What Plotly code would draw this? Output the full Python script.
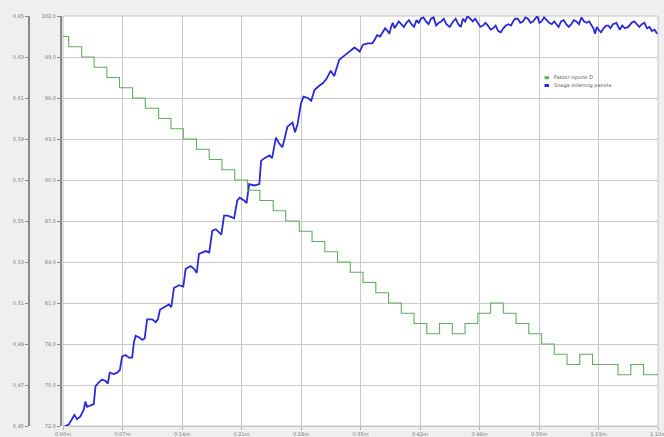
import plotly.graph_objects as go

# Duty factor D: step changes (start time in minutes, value)
duty_t = [0.0, 0.67, 2.2, 3.66, 5.16, 6.65, 8.18, 9.68, 11.25, 12.7, 14.15, 15.7,
          17.2, 18.7, 20.2, 21.7, 23.16, 24.73, 26.2, 27.8, 29.3, 30.8, 32.3, 33.8,
          35.3, 36.8, 38.3, 39.8, 41.3, 42.8, 44.3, 45.8, 47.3, 48.8, 50.3, 51.8,
          53.3, 54.8, 56.3, 57.8, 59.3, 60.8, 62.3, 63.8, 65.3, 66.8, 68.3, 69.6, 70.0]
duty_v = [0.640, 0.635, 0.630, 0.625, 0.620, 0.615, 0.610, 0.605, 0.600, 0.595, 0.590, 0.585,
          0.580, 0.575, 0.570, 0.565, 0.560, 0.555, 0.550, 0.545, 0.540, 0.535, 0.530, 0.525,
          0.520, 0.515, 0.510, 0.505, 0.500, 0.495, 0.500, 0.495, 0.500, 0.505, 0.510, 0.505,
          0.500, 0.495, 0.490, 0.485, 0.480, 0.485, 0.480, 0.480, 0.475, 0.480, 0.475, 0.475, 0.475]

# Solar panel power (time in minutes, value)
power_t = [0.2, 0.28, 0.67, 1.06, 1.34, 1.65, 2.05, 2.44, 2.64, 2.83, 3.23, 3.62, 3.82, 4.21,
           4.6, 5.0, 5.27, 5.5, 5.98, 6.37, 6.69, 6.96, 7.36, 7.75, 8.14, 8.34, 8.54, 8.93,
           9.32, 9.6, 9.9, 10.5, 10.9, 11.17, 11.4, 11.87, 12.46, 12.74, 13.05, 13.64, 14.15,
           14.43, 15.02, 15.41, 15.73, 16.0, 16.4, 16.8, 17.2, 17.57, 17.97, 18.36, 18.63,
           18.95, 19.34, 19.74, 20.13, 20.5, 20.8, 21.3, 21.6, 21.9, 22.5, 23.1, 23.3, 23.7,
           24.3, 24.6, 25.05, 25.4, 25.8, 26.0, 26.4, 27.0, 27.3, 27.6, 28.0, 28.3, 28.8,
           29.2, 29.6, 30.15, 30.6, 31.0, 31.5, 31.9, 32.5, 33.1, 33.7, 34.3, 34.9, 35.3,
           35.85, 36.4, 36.7, 36.95, 37.3, 37.6, 37.9, 38.2, 38.4, 38.6, 38.8, 39.0, 39.2,
           39.5, 39.8, 40.1, 40.4, 40.7, 41.0, 41.3, 41.6, 41.85, 42.1, 42.4, 42.7, 43.0,
           43.3, 43.6, 43.9, 44.2, 44.5, 44.8, 45.1, 45.5, 45.9, 46.2, 46.5, 46.8, 47.05,
           47.3, 47.6, 47.9, 48.2, 48.5, 48.8, 49.1, 49.4, 49.7, 50.0, 50.3, 50.6, 50.9,
           51.2, 51.5, 51.8, 52.1, 52.4, 52.7, 52.95, 53.2, 53.5, 53.8, 54.1, 54.4, 54.7,
           55.0, 55.3, 55.55, 55.8, 56.05, 56.3, 56.6, 56.9, 57.2, 57.5, 57.8, 58.05, 58.3,
           58.6, 58.9, 59.2, 59.5, 59.8, 60.1, 60.4, 60.7, 61.0, 61.3, 61.6, 61.9, 62.2,
           62.4, 62.6, 62.8, 63.0, 63.3, 63.6, 63.9, 64.15, 64.4, 64.7, 65.1, 65.5, 65.8,
           66.1, 66.5, 66.9, 67.2, 67.5, 67.8, 68.1, 68.4, 68.7, 69.0, 69.3, 69.6, 69.9]
power_v = [72.0, 72.0, 72.1, 72.5, 72.8, 72.5, 72.7, 73.2, 73.8, 73.4, 73.5, 73.6, 74.9, 75.2,
           75.4, 75.3, 75.1, 75.9, 75.8, 75.9, 76.1, 77.1, 77.2, 77.0, 77.0, 78.1, 78.6, 78.5,
           78.3, 78.4, 79.8, 79.8, 79.6, 79.8, 80.5, 80.7, 80.9, 80.7, 82.1, 82.3, 82.2,
           83.5, 83.7, 83.5, 83.2, 84.6, 84.7, 84.8, 84.7, 86.3, 86.4, 86.2, 86.0,
           87.4, 87.4, 87.3, 87.2, 88.5, 88.7, 88.5, 88.3, 89.7, 89.6, 89.7, 91.4, 91.6,
           91.8, 91.6, 93.1, 92.7, 92.4, 92.85, 93.9, 94.2, 93.5, 94.1, 95.6, 96.1, 96.0,
           95.8, 96.6, 96.9, 97.1, 97.4, 98.0, 97.6, 98.8, 99.1, 99.4, 99.7, 99.4, 99.9,
           100.0, 100.0, 100.3, 100.6, 100.5, 100.8, 101.1, 100.9, 100.7, 101.2, 101.5, 101.1, 101.3,
           101.6, 101.4, 101.2, 101.5, 101.7, 101.4, 101.2, 101.7, 101.5, 101.8, 101.9, 101.6, 101.4,
           101.8, 101.9, 101.3, 101.5, 101.6, 101.8, 101.4, 101.2, 101.6, 101.8, 101.4, 101.2, 101.8,
           101.6, 102.0, 101.8, 101.6, 101.8, 101.5, 101.2, 101.3, 101.5, 101.3, 101.0, 101.1, 101.3,
           100.9, 100.8, 101.1, 101.3, 101.4, 101.3, 101.6, 101.8, 101.8, 101.5, 101.6, 101.9, 101.8,
           101.5, 101.6, 101.8, 102.0, 101.5, 101.6, 101.9, 101.7, 101.5, 101.4, 101.6, 101.4, 101.2,
           101.6, 101.7, 101.4, 101.2, 101.4, 101.7, 101.6, 101.4, 101.9, 101.6, 101.5, 101.6, 101.3,
           101.1, 100.7, 101.2, 101.0, 100.8, 101.1, 101.3, 101.3, 101.1, 101.4, 101.5, 101.0, 101.3,
           101.1, 101.2, 101.5, 101.6, 101.4, 101.2, 101.4, 101.5, 101.1, 101.2, 100.9, 101.0, 100.7]

tick_minutes = [0, 7, 14, 21, 28, 35, 42, 49, 56, 63, 70]
tick_labels = ["0:00m", "0:07m", "0:14m", "0:21m", "0:28m", "0:35m", "0:42m",
               "0:49m", "0:56m", "1:03m", "1:10m"]

series_names = ["Faktor ispune D", "Snaga solarnog panela"]

GREEN = "#62ad62"
BLUE = "#2a2ad8"
GRID = "#c9c9c9"
AXIS = "#8c8c8c"
TXT = "#7a7a7a"
W, H = 664, 437

fig = go.Figure()
fig.add_trace(go.Scatter(x=duty_t, y=duty_v, mode="lines", name=series_names[0],
                         line=dict(color=GREEN, width=1.1, shape="hv"),
                         yaxis="y2", showlegend=False, hoverinfo="skip"))
fig.add_trace(go.Scatter(x=power_t, y=power_v, mode="lines", name=series_names[1],
                         line=dict(color=BLUE, width=1.8),
                         yaxis="y", showlegend=False, hoverinfo="skip"))

fig.update_layout(
    width=W, height=H,
    margin=dict(l=0, r=0, t=16, b=11, autoexpand=False),
    paper_bgcolor="#efefef",
    plot_bgcolor="#ffffff",
    separators=", ",
    font=dict(family="DejaVu Sans", size=5, color=TXT),
    showlegend=False,
    xaxis=dict(domain=[63 / W, 658 / W], range=[0, 70], tickvals=tick_minutes, ticktext=tick_labels,
               showgrid=True, gridcolor=GRID, gridwidth=1, zeroline=False,
               showline=True, linecolor="#c4c4c4", linewidth=1,
               ticks="outside", ticklen=3, tickcolor="#b0b0b0", ticklabeloverflow="allow",
               automargin=False, tickfont=dict(size=5, color=TXT)),
    yaxis=dict(range=[72, 102], dtick=3, tick0=72, tickformat=".1f",
               anchor="free", position=61 / W, side="left", automargin=False,
               showgrid=True, gridcolor=GRID, gridwidth=1, zeroline=False,
               showline=True, linecolor=AXIS, linewidth=2,
               ticks="outside", ticklen=3, tickcolor=AXIS,
               tickfont=dict(size=5, color=TXT)),
    yaxis2=dict(range=[0.45, 0.65], dtick=0.02, tick0=0.45, tickformat=".2f",
                anchor="free", position=29 / W, side="left", overlaying="y", automargin=False,
                showgrid=False, zeroline=False,
                showline=True, linecolor=AXIS, linewidth=2,
                ticks="outside", ticklen=3, tickcolor=AXIS,
                tickfont=dict(size=5, color=TXT)),
)
fig.add_shape(type="rect", xref="x domain", yref="y domain", x0=0, x1=1, y0=0, y1=1,
              line=dict(color="#c4c4c4", width=1), layer="below")

# compact legend: colour swatch + name
for i, (name, col) in enumerate(zip(series_names, [GREEN, BLUE])):
    yc = 65.8 + 8.3 * i
    fig.add_shape(type="rect", xref="paper", yref="paper",
                  x0=544.5 / W, x1=549 / W, y0=1 - (yc - 1.6) / H, y1=1 - (yc + 1.6) / H,
                  line=dict(width=0), fillcolor=col)
    fig.add_annotation(xref="paper", yref="paper", x=551.5 / W, y=1 - yc / H,
                       xanchor="left", yanchor="middle", showarrow=False,
                       text=name, font=dict(size=5, color="#555555"))

fig.write_html("out.html")
